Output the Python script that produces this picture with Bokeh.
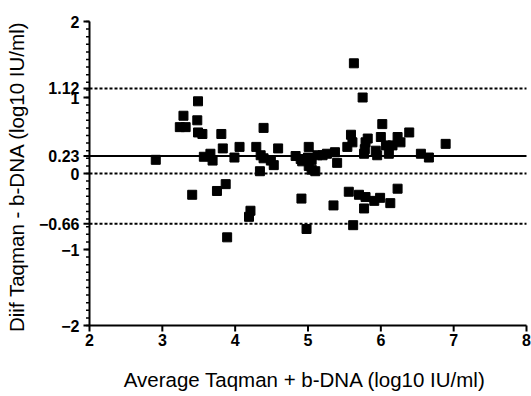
from bokeh.plotting import figure
from bokeh.models import FixedTicker, Range1d, LinearAxis, Arrow, ColumnDataSource
from bokeh.embed import file_html
from bokeh.resources import INLINE

# Bland-Altman data: average vs difference (log10 IU/ml)
avg = [2.91, 3.24, 3.32, 3.29, 3.49, 3.48, 3.49, 3.55, 3.57, 3.66,
       3.69, 3.81, 3.83, 3.99, 4.06, 4.29, 4.39, 4.35, 4.39, 4.49,
       4.53, 4.34, 4.59, 4.83, 4.90, 4.92, 5.01, 5.00, 5.05, 5.01,
       5.05, 5.10, 5.13, 5.20, 5.26, 5.37, 5.40, 5.54, 5.59, 5.61,
       5.63, 5.75, 5.79, 5.82, 5.77, 5.78, 5.93, 5.95, 6.00, 6.07,
       6.02, 6.11, 6.16, 6.23, 6.27, 6.39, 6.55, 6.66, 6.89,
       3.41, 3.75, 3.87, 3.89, 4.21, 4.19, 4.91, 4.98, 5.35, 5.56,
       5.70, 5.79, 5.91, 5.99, 5.77, 6.13, 6.23, 5.62]
diff = [0.18, 0.61, 0.61, 0.76, 0.95, 0.70, 0.54, 0.52, 0.22, 0.26,
        0.17, 0.52, 0.33, 0.21, 0.35, 0.35, 0.60, 0.24, 0.20, 0.17,
        0.11, 0.03, 0.33, 0.23, 0.19, 0.16, 0.35, 0.21, 0.18, 0.10,
        0.05, 0.03, 0.24, 0.24, 0.26, 0.28, 0.14, 0.35, 0.51, 0.41,
        1.45, 1.00, 0.41, 0.46, 0.26, 0.32, 0.30, 0.24, 0.48, 0.37,
        0.65, 0.26, 0.37, 0.48, 0.41, 0.54, 0.26, 0.21, 0.39,
        -0.28, -0.23, -0.14, -0.84, -0.49, -0.57, -0.33, -0.73, -0.42, -0.24,
        -0.28, -0.31, -0.36, -0.32, -0.46, -0.39, -0.20, -0.68]

bias = [0.23]
limits = [1.12, 0, -0.66]   # upper limit, zero line, lower limit

x_ticks = [2, 3, 4, 5, 6, 7, 8]
y_ticks = [-2, -1, -0.66, 0, 0.23, 1, 1.12, 2]
y_tick_labels = ["-2", "-1", "-0.66", "0", "0.23", "1", "1.12", "2"]
y_minor = [round(-2 + 0.1 * i, 1) for i in range(41)]

FONT = "Liberation Sans"
W, H = 531, 396
BL, BR, BT, BB = 89, 5, 21, 71          # borders around the data area
X0, X1, Y0, Y1 = 2, 8, -2, 2
PAD_L, PAD_R, PAD_T, PAD_B = 8, 2, 2, 8  # extra frame room for the tick marks

px_x = (X1 - X0) / (W - BL - BR)
px_y = (Y1 - Y0) / (H - BT - BB)

p = figure(width=W, height=H, output_backend="svg", toolbar_location=None,
           x_range=Range1d(X0 - PAD_L * px_x, X1 + PAD_R * px_x),
           y_range=Range1d(Y0 - PAD_B * px_y, Y1 + PAD_T * px_y),
           x_axis_location=None, y_axis_location=None,
           min_border_left=BL - PAD_L, min_border_right=BR - PAD_R,
           min_border_top=BT - PAD_T, min_border_bottom=BB - PAD_B)
p.outline_line_color = None
p.grid.visible = False

# axes carry the tick labels and titles; their lines/ticks are drawn below
xaxis = LinearAxis(ticker=FixedTicker(ticks=x_ticks),
                   axis_label="Average Taqman + b-DNA (log10 IU/ml)")
yaxis = LinearAxis(ticker=FixedTicker(ticks=y_ticks),
                   axis_label="Diif Taqman - b-DNA (log10 IU/ml)")
yaxis.major_label_overrides = {str(t): s for t, s in zip(y_ticks, y_tick_labels)}

for ax in (xaxis, yaxis):
    ax.axis_line_color = None
    ax.major_tick_line_color = None
    ax.minor_tick_line_color = None
    ax.major_tick_in = 0
    ax.major_tick_out = 0
    ax.major_label_text_font = FONT
    ax.major_label_text_font_style = "bold"
    ax.major_label_text_font_size = "16px"
    ax.major_label_text_color = "black"
    ax.axis_label_text_font = FONT
    ax.axis_label_text_font_style = "normal"
    ax.axis_label_text_font_size = "20.5px"
    ax.axis_label_text_color = "black"

xaxis.major_label_standoff = 0
xaxis.axis_label_standoff = 19
yaxis.major_label_standoff = 2
yaxis.axis_label_standoff = 8

p.add_layout(xaxis, "below")
p.add_layout(yaxis, "left")

# axis lines
p.segment(x0=[X0], x1=[X0], y0=[Y0], y1=[Y1], line_color="black", line_width=2)
p.segment(x0=[X0], x1=[X1], y0=[Y0], y1=[Y0], line_color="black", line_width=2)

# tick marks drawn as headless arrows (pixel lengths converted to data units)
major_len, minor_len = 6, 3.5
ymaj = ColumnDataSource(dict(xs=[X0] * len(y_ticks), xe=[X0 - major_len * px_x] * len(y_ticks),
                             y=y_ticks))
ymin = ColumnDataSource(dict(xs=[X0] * len(y_minor), xe=[X0 - minor_len * px_x] * len(y_minor),
                             y=y_minor))
xmaj = ColumnDataSource(dict(x=x_ticks, ys=[Y0] * len(x_ticks),
                             ye=[Y0 - major_len * px_y] * len(x_ticks)))
p.add_layout(Arrow(end=None, source=ymaj, x_start="xs", x_end="xe", y_start="y", y_end="y",
                   line_color="black", line_width=2))
p.add_layout(Arrow(end=None, source=ymin, x_start="xs", x_end="xe", y_start="y", y_end="y",
                   line_color="black", line_width=1.5))
p.add_layout(Arrow(end=None, source=xmaj, x_start="x", x_end="x", y_start="ys", y_end="ye",
                   line_color="black", line_width=2))

# reference lines across the data area: mean bias (solid), limits (dotted)
p.segment(x0=[X0] * len(bias), x1=[X1] * len(bias), y0=bias, y1=bias,
          line_color="black", line_width=2)
p.segment(x0=[X0] * len(limits), x1=[X1] * len(limits), y0=limits, y1=limits,
          line_color="black", line_width=2, line_dash="3 2")

p.scatter(avg, diff, marker="square", size=9, fill_color="black", line_color="black")

open("out.html", "w").write(file_html(p, INLINE))
